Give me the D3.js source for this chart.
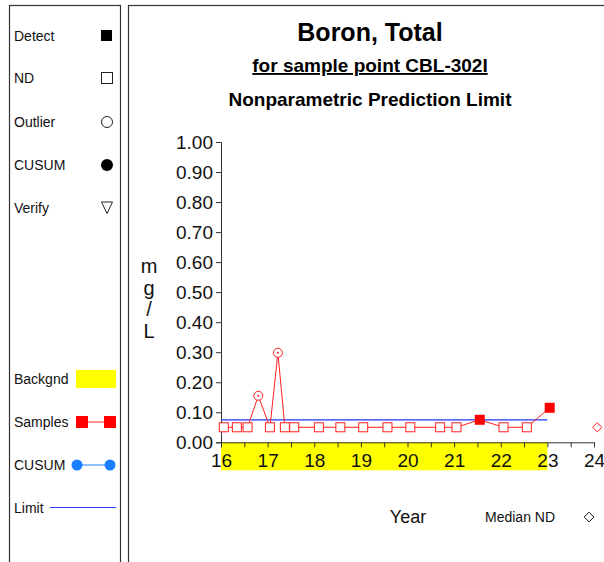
<!DOCTYPE html>
<html><head><meta charset="utf-8">
<script src="https://cdn.jsdelivr.net/npm/d3@7"></script>
<style>
html,body{margin:0;padding:0;background:#fff;}
svg text{font-family:"Liberation Sans",Arial,sans-serif;}
</style></head>
<body><svg id="c" width="604" height="562"></svg>
<script>
// ---- data ----
const sampleDates  = [16.06,16.34,16.57,16.80,17.05,17.22,17.37,17.57,18.10,18.56,19.05,19.57,20.06,20.70,21.05,21.55,22.06,22.56,23.05];
const sampleValues = [0.05,0.05,0.05,0.155,0.05,0.298,0.05,0.05,0.05,0.05,0.05,0.05,0.05,0.05,0.05,0.075,0.05,0.05,0.115];
const sampleTypes  = ["ND","ND","ND","Outlier","ND","Outlier","ND","ND","ND","ND","ND","ND","ND","ND","ND","Detect","ND","ND","Detect"];
const limitValue = 0.075;
const limitRange = [16, 23];
const backgroundRange = [16, 23];
const medianND = {date: 24.07, value: 0.05};
const yTicks = [0,0.1,0.2,0.3,0.4,0.5,0.6,0.7,0.8,0.9,1.0];
const xTickLabels = [16,17,18,19,20,21,22,23,24];
const legendTop = ["Detect","ND","Outlier","CUSUM","Verify"];
const legendBottom = ["Backgnd","Samples","CUSUM","Limit"];

const svg = d3.select("#c");
const x = d3.scaleLinear().domain([16,24]).range([221,594]);
const y = d3.scaleLinear().domain([0,1]).range([442.3,142.0]);

// panels
svg.append("rect").attr("x",9.5).attr("y",5.5).attr("width",111).attr("height",600)
  .attr("fill","none").attr("stroke","#333").attr("stroke-width",1.2);
svg.append("rect").attr("x",128.5).attr("y",5.5).attr("width",600).attr("height",600)
  .attr("fill","none").attr("stroke","#333").attr("stroke-width",1.2);

// titles
svg.append("text").attr("x",370).attr("y",41).attr("text-anchor","middle")
  .attr("font-size",25).attr("font-weight","bold").text("Boron, Total");
svg.append("text").attr("x",370).attr("y",72).attr("text-anchor","middle")
  .attr("font-size",19).attr("font-weight","bold").attr("text-decoration","underline")
  .text("for sample point CBL-302I");
svg.append("text").attr("x",370).attr("y",106).attr("text-anchor","middle")
  .attr("font-size",19).attr("font-weight","bold").text("Nonparametric Prediction Limit");

// background band
svg.append("rect").attr("x",x(backgroundRange[0])).attr("y",y(0))
  .attr("width",x(backgroundRange[1])-x(backgroundRange[0])).attr("height",28)
  .attr("fill","#ffff00");

// y axis
const yAxis = d3.axisLeft(y).tickValues(yTicks).tickFormat(d3.format(".2f")).tickSize(5).tickPadding(3);
const gy = svg.append("g").attr("transform",`translate(${x(16)},0)`).call(yAxis);
gy.select(".domain").attr("stroke","#333");
gy.selectAll(".tick line").attr("stroke","#333");
gy.selectAll("text").attr("font-size",19).attr("fill","#111").attr("font-family","Liberation Sans, Arial, sans-serif");

// x axis
const halfTicks = d3.range(16,24.01,0.5);
const xAxis = d3.axisBottom(x).tickValues(halfTicks).tickSize(5)
  .tickFormat(d => xTickLabels.includes(d) ? String(d) : "").tickPadding(6);
const gx = svg.append("g").attr("transform",`translate(0,${y(0)})`).call(xAxis);
gx.select(".domain").attr("stroke","#333");
gx.selectAll(".tick line").attr("stroke","#333");
gx.selectAll("text").attr("font-size",19).attr("fill","#111").attr("font-family","Liberation Sans, Arial, sans-serif");

// y label
["m","g","/","L"].forEach((ch,i)=>{
  svg.append("text").attr("x",149).attr("y",273+i*21.5).attr("text-anchor","middle")
    .attr("font-size",20).attr("fill","#111").text(ch);
});

// limit line
svg.append("line").attr("x1",x(limitRange[0])).attr("x2",x(limitRange[1]))
  .attr("y1",y(limitValue)).attr("y2",y(limitValue)).attr("stroke","#2233ff").attr("stroke-width",1.2);

// sample line
const pts = sampleDates.map((d,i)=>({d, v:sampleValues[i], t:sampleTypes[i]}));
svg.append("path").datum(pts)
  .attr("d", d3.line().x(p=>x(p.d)).y(p=>y(p.v)))
  .attr("fill","none").attr("stroke","#ff2020").attr("stroke-width",1);

// markers
pts.forEach(p=>{
  const cx = x(p.d), cy = y(p.v);
  if (p.t==="ND") {
    svg.append("rect").attr("x",cx-4.5).attr("y",cy-4.5).attr("width",9).attr("height",9)
      .attr("fill","#fff").attr("stroke","#ff2020").attr("stroke-width",1);
  } else if (p.t==="Outlier") {
    svg.append("circle").attr("cx",cx).attr("cy",cy).attr("r",4.5)
      .attr("fill","#fff").attr("stroke","#ff2020").attr("stroke-width",1);
    svg.append("circle").attr("cx",cx).attr("cy",cy).attr("r",1).attr("fill","#ff2020");
  } else {
    svg.append("rect").attr("x",cx-5).attr("y",cy-5).attr("width",10).attr("height",10)
      .attr("fill","#ff0000");
  }
});

// median ND marker
svg.append("path").attr("d",d3.symbol(d3.symbolDiamond2,55)())
  .attr("transform",`translate(${x(medianND.date)},${y(medianND.value)})`)
  .attr("fill","#fff").attr("stroke","#ff2020").attr("stroke-width",1);

// bottom labels
svg.append("text").attr("x",408).attr("y",523).attr("text-anchor","middle")
  .attr("font-size",18).attr("fill","#111").text("Year");
svg.append("text").attr("x",485).attr("y",522).attr("font-size",14).attr("fill","#111").text("Median ND");
svg.append("path").attr("d",d3.symbol(d3.symbolDiamond2,60)())
  .attr("transform","translate(589,517)").attr("fill","#fff").attr("stroke","#111").attr("stroke-width",1);

// legend top
const topY = [36,78,122,165,208];
legendTop.forEach((lab,i)=>{
  svg.append("text").attr("x",14).attr("y",topY[i]+5).attr("font-size",14).attr("fill","#111").text(lab);
});
svg.append("rect").attr("x",101).attr("y",30).attr("width",11).attr("height",11).attr("fill","#000");
svg.append("rect").attr("x",101.5).attr("y",72.5).attr("width",11).attr("height",11).attr("fill","none").attr("stroke","#222");
svg.append("circle").attr("cx",107).attr("cy",122).attr("r",5.5).attr("fill","none").attr("stroke","#222");
svg.append("circle").attr("cx",107).attr("cy",165).attr("r",6).attr("fill","#000");
svg.append("path").attr("d","M101.5,202 L112.5,202 L107,213.5 Z").attr("fill","none").attr("stroke","#222");

// legend bottom
const botY = [379,422,465,508];
legendBottom.forEach((lab,i)=>{
  svg.append("text").attr("x",14).attr("y",botY[i]+5).attr("font-size",14).attr("fill","#111").text(lab);
});
svg.append("rect").attr("x",76).attr("y",370).attr("width",40).attr("height",18).attr("fill","#ffff00");
svg.append("line").attr("x1",82).attr("x2",110).attr("y1",422).attr("y2",422).attr("stroke","#ff7070").attr("stroke-width",1.5);
svg.append("rect").attr("x",76).attr("y",416).attr("width",12).attr("height",12).attr("fill","#ff0000");
svg.append("rect").attr("x",104).attr("y",416).attr("width",12).attr("height",12).attr("fill","#ff0000");
svg.append("line").attr("x1",77).attr("x2",110).attr("y1",465).attr("y2",465).attr("stroke","#66aaff").attr("stroke-width",1.5);
svg.append("circle").attr("cx",77).attr("cy",465).attr("r",5.5).attr("fill","#1a7fff");
svg.append("circle").attr("cx",110).attr("cy",465).attr("r",5.5).attr("fill","#1a7fff");
svg.append("line").attr("x1",50).attr("x2",116).attr("y1",507.5).attr("y2",507.5).attr("stroke","#2a3cff").attr("stroke-width",1.2);
</script></body></html>
